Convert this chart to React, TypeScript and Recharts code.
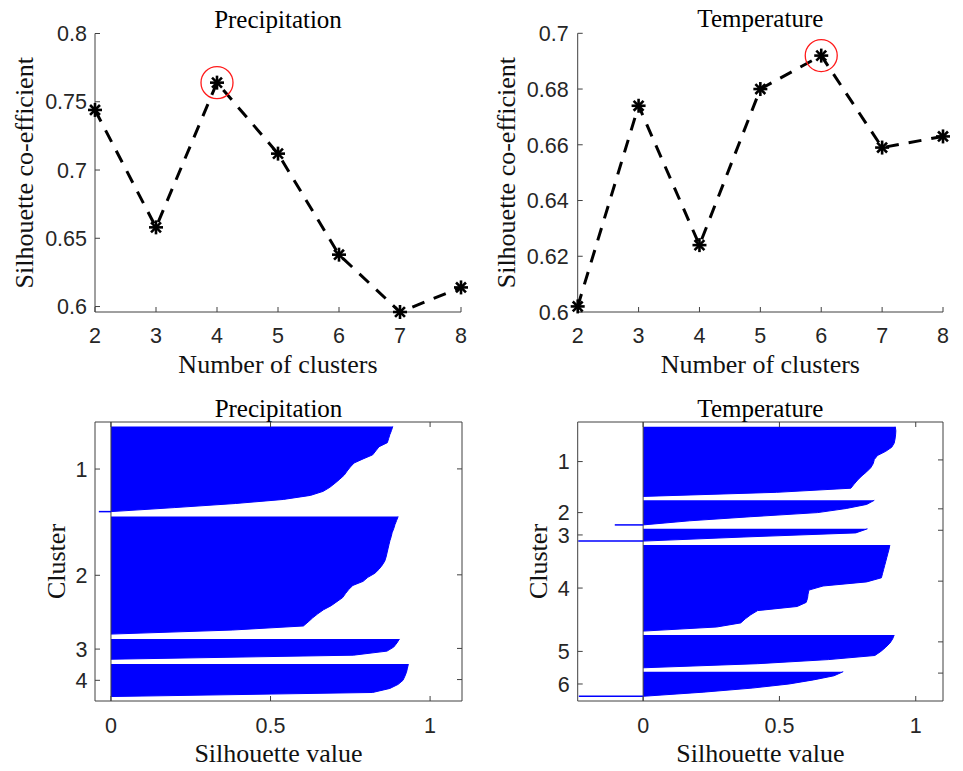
import React from "react";
import {
  Area,
  ComposedChart,
  Line,
  LineChart,
  ReferenceLine,
  XAxis,
  YAxis,
} from "recharts";

// mean silhouette coefficient per number of clusters
const clusterCounts = [2, 3, 4, 5, 6, 7, 8];
const precipCoef = [0.744, 0.658, 0.764, 0.712, 0.638, 0.596, 0.614];
const tempCoef = [0.602, 0.674, 0.624, 0.68, 0.692, 0.659, 0.663];

const precipCoefTicks = [0.6, 0.65, 0.7, 0.75, 0.8];
const tempCoefTicks = [0.6, 0.62, 0.64, 0.66, 0.68, 0.7];
const silTicks = [0, 0.5, 1];

// silhouette values per cluster, sorted, read top to bottom
const precipSil1 = [
  0.883, 0.879, 0.874, 0.87, 0.866, 0.84, 0.83, 0.82, 0.79, 0.762, 0.75, 0.74,
  0.731, 0.717, 0.702, 0.686, 0.665, 0.625, 0.54, 0.39, 0.2, 0,
];
const precipSil2 = [
  0.9, 0.895, 0.89, 0.886, 0.881, 0.878, 0.874, 0.871, 0.868, 0.865, 0.862,
  0.858, 0.85, 0.84, 0.827, 0.805, 0.79, 0.758, 0.745, 0.735, 0.726, 0.708,
  0.69, 0.666, 0.648, 0.632, 0.618, 0.603, 0.38, 0,
];
const precipSil3 = [0.904, 0.896, 0.886, 0.865, 0.76, 0];
const precipSil4 = [0.932, 0.929, 0.926, 0.921, 0.915, 0.9, 0.874, 0.82, 0];
const precipNeg = [-0.038, -0.052, null, null];

const tempSil1 = [
  0.925, 0.927, 0.926, 0.924, 0.921, 0.912, 0.89, 0.86, 0.848, 0.844, 0.835,
  0.82, 0.802, 0.787, 0.774, 0.762, 0.49, 0,
];
const tempSil2 = [0.848, 0.82, 0.745, 0.64, 0.395, 0.17, 0];
const tempSil3 = [0.823, 0.78, 0.37, 0];
const tempSil4 = [
  0.905, 0.902, 0.898, 0.894, 0.89, 0.886, 0.882, 0.878, 0.874, 0.82, 0.66,
  0.608, 0.605, 0.603, 0.598, 0.565, 0.42, 0.395, 0.375, 0.358, 0.27, 0,
];
const tempSil5 = [0.921, 0.915, 0.905, 0.89, 0.872, 0.85, 0.68, 0.42, 0];
const tempSil6 = [0.734, 0.7, 0.625, 0.535, 0.4, 0.22, 0];
const tempNeg = [null, -0.104, -0.238, null, null, -0.236];

const AXIS = "#404040";
const TEXT = "#262626";
const BLUE = "#0000ff";
const SANS = "'Liberation Sans', Arial, sans-serif";
const SERIF = "'Liberation Serif', 'Times New Roman', serif";

const axisStroke = { stroke: AXIS, strokeWidth: 1 };
const labelFont = { fontSize: 26, fontFamily: SERIF, fill: "#111" };

const titleStyle: React.CSSProperties = {
  position: "absolute",
  textAlign: "center",
  fontFamily: SERIF,
  fontSize: 25,
  lineHeight: "25px",
  color: "#000",
  whiteSpace: "nowrap",
  zIndex: 2,
};

// tick text drawn by hand so the font size sticks
function makeTick(side: "bottom" | "left", fmt?: (v: number) => string) {
  return (props: any) => {
    const { x, y, payload } = props;
    const text = fmt ? fmt(payload.value) : String(payload.value);
    return (
      <text
        x={x}
        y={y}
        dy={side === "bottom" ? "0.71em" : "0.36em"}
        textAnchor={side === "bottom" ? "middle" : "end"}
        fontSize={21.5}
        fontFamily={SANS}
        fill={TEXT}
      >
        {text}
      </text>
    );
  };
}

function makeStar(best: number) {
  return (props: any) => {
    const { cx, cy, payload, index } = props;
    const r = 7;
    const d = r * 0.707;
    return (
      <g key={`m${index}`} stroke="#000" strokeWidth={2.6} fill="none">
        <line x1={cx - r} y1={cy} x2={cx + r} y2={cy} />
        <line x1={cx} y1={cy - r} x2={cx} y2={cy + r} />
        <line x1={cx - d} y1={cy - d} x2={cx + d} y2={cy + d} />
        <line x1={cx - d} y1={cy + d} x2={cx + d} y2={cy - d} />
        {payload.k === best && (
          <circle cx={cx} cy={cy} r={16} stroke="#ff1a1a" strokeWidth={1.3} />
        )}
      </g>
    );
  };
}

function ScorePanel({
  title,
  coef,
  domain,
  ticks,
  left,
  width,
  yAxisWidth,
  right,
  top,
  tickGap,
  labelOffset,
  titleTop,
}: any) {
  const data = clusterCounts.map((k, i) => ({ k, v: coef[i] }));
  const best = data.reduce((a, b) => (b.v > a.v ? b : a)).k;
  return (
    <div style={{ position: "absolute", left, top: 0, width, height: 390 }}>
      <div
        style={{
          ...titleStyle,
          left: yAxisWidth,
          width: width - right - yAxisWidth,
          top: titleTop,
        }}
      >
        {title}
      </div>
      <LineChart
        width={width}
        height={390}
        data={data}
        margin={{ top, right, bottom: 0, left: 0 }}
      >
        <XAxis
          dataKey="k"
          type="number"
          domain={[2, 8]}
          ticks={clusterCounts}
          interval={0}
          height={78}
          tickSize={-5}
          tickMargin={21}
          tick={makeTick("bottom")}
          axisLine={axisStroke}
          tickLine={axisStroke}
          label={{
            value: "Number of clusters",
            position: "insideBottom",
            offset: 17,
            ...labelFont,
          }}
        />
        <YAxis
          type="number"
          domain={domain}
          ticks={ticks}
          interval={0}
          width={yAxisWidth}
          tickSize={-5}
          tickMargin={5 + tickGap}
          tick={makeTick("left")}
          axisLine={axisStroke}
          tickLine={axisStroke}
          label={{
            value: "Silhouette co-efficient",
            angle: -90,
            position: "insideLeft",
            offset: labelOffset,
            style: { textAnchor: "middle" },
            ...labelFont,
          }}
        />
        <Line
          dataKey="v"
          type="linear"
          stroke="#000"
          strokeWidth={3}
          strokeDasharray="13 10"
          dot={makeStar(best)}
          activeDot={false}
          isAnimationActive={false}
        />
      </LineChart>
    </div>
  );
}

function buildRows(clusters: number[][], gap: number, pad: number) {
  const rows: { pos: number; s: number | null }[] = [];
  const centers: number[] = [];
  const ends: number[] = [];
  let pos = pad;
  clusters.forEach((vals, ci) => {
    if (ci > 0) rows.push({ pos: pos - gap / 2, s: null });
    const start = pos;
    vals.forEach((v, i) => rows.push({ pos: start + i, s: v }));
    const end = start + vals.length - 1;
    centers.push((start + end) / 2);
    ends.push(end);
    pos = end + gap;
  });
  return { rows, centers, ends, total: pos - gap + pad };
}

function SilhouettePanel({
  title,
  clusters,
  negatives,
  gap,
  pad,
  xMin,
  left,
  width,
  yAxisWidth,
  right,
  tickGap,
  labelOffset,
}: any) {
  const { rows, centers, ends, total } = buildRows(clusters, gap, pad);
  const clusterLabel = (v: number) =>
    String(centers.findIndex((c) => Math.abs(c - v) < 1e-6) + 1);
  return (
    <div style={{ position: "absolute", left, top: 390, width, height: 381 }}>
      <div
        style={{
          ...titleStyle,
          left: yAxisWidth,
          width: width - right - yAxisWidth,
          top: 5.8,
        }}
      >
        {title}
      </div>
      <ComposedChart
        layout="vertical"
        width={width}
        height={381}
        data={rows}
        margin={{ top: 31, right: right - 1, bottom: 0, left: 0 }}
      >
        <XAxis
          type="number"
          domain={[xMin, 1.1]}
          ticks={silTicks}
          interval={0}
          allowDataOverflow
          height={70}
          tickSize={-5}
          tickMargin={22}
          tick={makeTick("bottom")}
          axisLine={axisStroke}
          tickLine={axisStroke}
          label={{
            value: "Silhouette value",
            position: "insideBottom",
            offset: 9,
            ...labelFont,
          }}
        />
        <XAxis
          xAxisId="top"
          orientation="top"
          type="number"
          domain={[xMin, 1.1]}
          ticks={silTicks}
          interval={0}
          allowDataOverflow
          height={1}
          tickSize={-5}
          tickFormatter={() => ""}
          axisLine={axisStroke}
          tickLine={axisStroke}
        />
        <YAxis
          type="number"
          dataKey="pos"
          domain={[0, total]}
          ticks={centers}
          interval={0}
          allowDataOverflow
          width={yAxisWidth}
          tickSize={-5}
          tickMargin={5 + tickGap}
          tick={makeTick("left", clusterLabel)}
          axisLine={axisStroke}
          tickLine={axisStroke}
          label={{
            value: "Cluster",
            angle: -90,
            position: "insideLeft",
            offset: labelOffset,
            style: { textAnchor: "middle" },
            ...labelFont,
          }}
        />
        <YAxis
          yAxisId="right"
          orientation="right"
          type="number"
          domain={[0, total]}
          ticks={centers}
          interval={0}
          allowDataOverflow
          width={1}
          tickSize={-5}
          tickFormatter={() => ""}
          axisLine={axisStroke}
          tickLine={axisStroke}
        />
        <Area
          dataKey="s"
          type="linear"
          fill={BLUE}
          fillOpacity={1}
          stroke={BLUE}
          strokeWidth={1}
          dot={false}
          activeDot={false}
          connectNulls={false}
          isAnimationActive={false}
        />
        <ReferenceLine x={0} stroke={AXIS} strokeWidth={1} />
        {negatives.map((v: number | null, ci: number) =>
          v == null ? null : (
            <ReferenceLine
              key={`neg${ci}`}
              segment={[
                { x: v, y: ends[ci] },
                { x: 0, y: ends[ci] },
              ]}
              stroke={BLUE}
              strokeWidth={1.5}
            />
          )
        )}
      </ComposedChart>
    </div>
  );
}

export default function App() {
  return (
    <div
      style={{
        position: "absolute",
        left: 0,
        top: 0,
        width: 963,
        height: 771,
        background: "#fff",
        overflow: "hidden",
      }}
    >
      <ScorePanel
        title="Precipitation"
        coef={precipCoef}
        domain={[0.596, 0.8]}
        ticks={precipCoefTicks}
        left={0}
        width={480}
        yAxisWidth={95}
        right={19}
        top={33.5}
        tickGap={8}
        labelOffset={24}
        titleTop={6.6}
      />
      <ScorePanel
        title="Temperature"
        coef={tempCoef}
        domain={[0.6, 0.7]}
        ticks={tempCoefTicks}
        left={480}
        width={483}
        yAxisWidth={97.7}
        right={20}
        top={33.3}
        tickGap={9}
        labelOffset={26}
        titleTop={6.4}
      />
      <SilhouettePanel
        title="Precipitation"
        clusters={[precipSil1, precipSil2, precipSil3, precipSil4]}
        negatives={precipNeg}
        gap={1.2}
        pad={1.1}
        xMin={-0.05}
        left={0}
        width={480}
        yAxisWidth={95}
        right={18}
        tickGap={7.5}
        labelOffset={56}
      />
      <SilhouettePanel
        title="Temperature"
        clusters={[tempSil1, tempSil2, tempSil3, tempSil4, tempSil5, tempSil6]}
        negatives={tempNeg}
        gap={0.95}
        pad={1.15}
        xMin={-0.24}
        left={480}
        width={483}
        yAxisWidth={97.7}
        right={20}
        tickGap={8}
        labelOffset={57.5}
      />
    </div>
  );
}
